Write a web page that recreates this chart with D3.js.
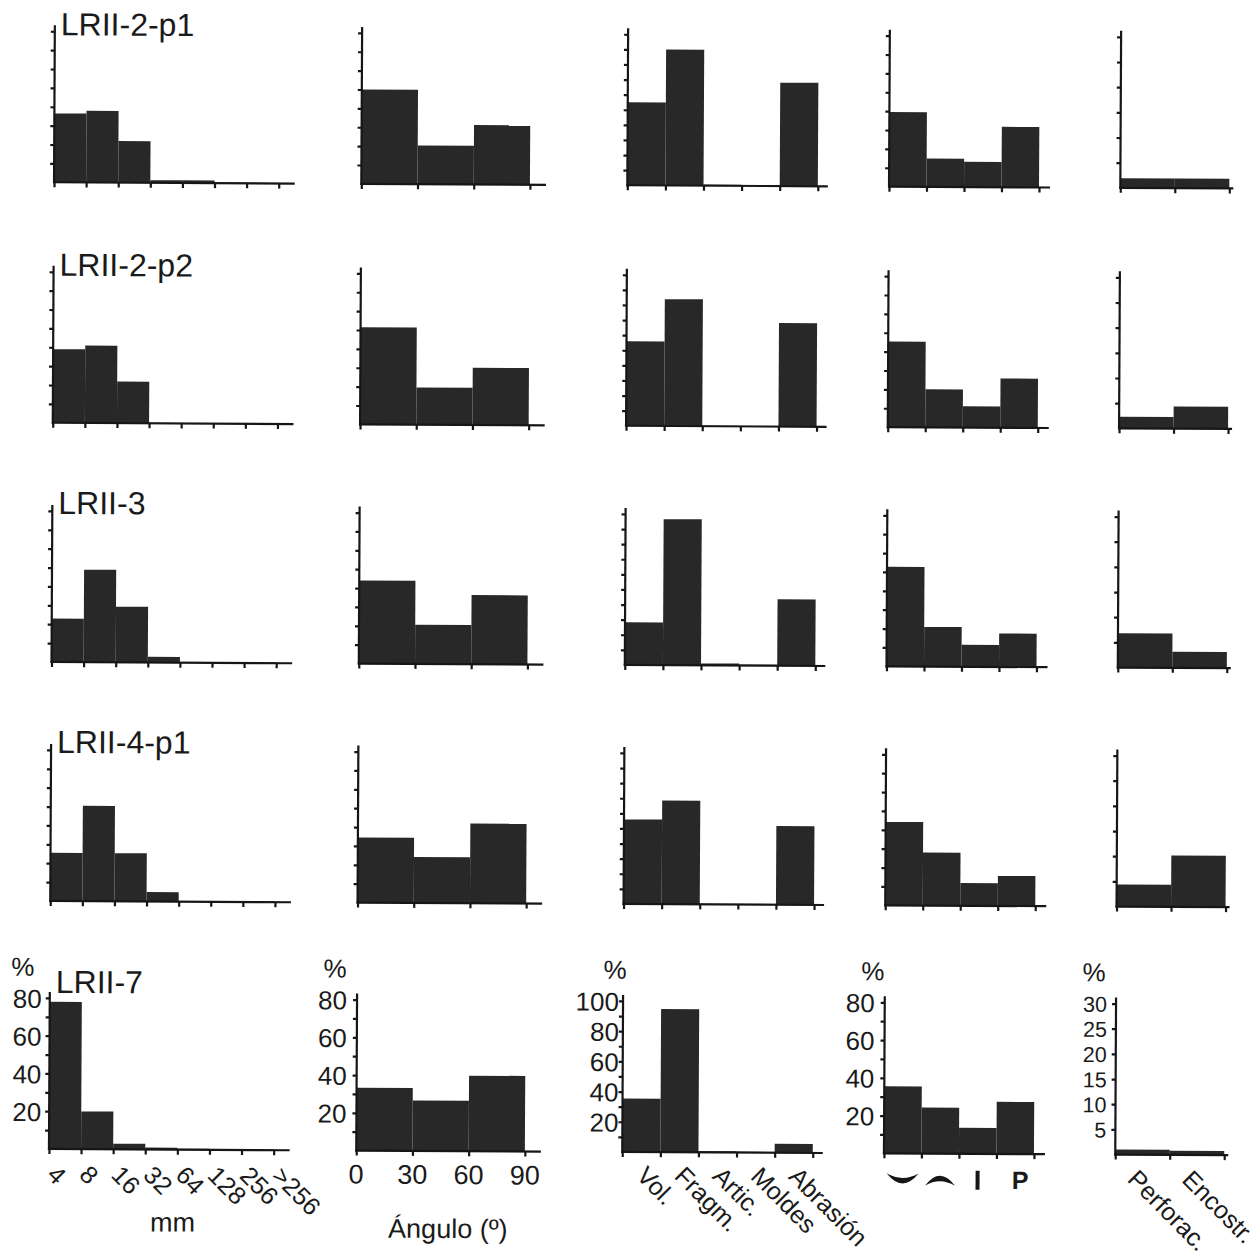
<!DOCTYPE html>
<html>
<head>
<meta charset="utf-8">
<script src="https://cdn.jsdelivr.net/npm/d3@7"></script>
<style>
  html, body { margin: 0; padding: 0; background: #ffffff; }
  svg text { font-family: "Liberation Sans", Arial, Helvetica, sans-serif; fill: #1a1a1a; }
</style>
</head>
<body>
<svg id="fig" width="1260" height="1256"></svg>
<script>
// ---- Data -------------------------------------------------------------
// Levels (one row of histograms each)
const samples = ["LRII-2-p1", "LRII-2-p2", "LRII-3", "LRII-4-p1", "LRII-7"];

// Size classes (mm): bin edges, and % of remains per class
const sizeEdges = ["4", "8", "16", "32", "64", "128", "256", ">256"];
const sizePct = [
  [36.5, 38, 22, 1.4, 1.4, 0.3, 0.3],
  [39, 41, 22, 0.3, 0.3, 0.3, 0.3],
  [23, 49, 29.5, 3, 0.4, 0.4, 0.4],
  [25.5, 50.5, 25.5, 5, 0.4, 0.4, 0.4],
  [78, 20, 3, 1, 0.5, 0.4, 0.3]
];

// Dip angle (degrees): bin edges and %
const angleEdges = ["0", "30", "60", "90"];
const anglePct = [
  [50, 20.5, 31.5],
  [51.5, 19.7, 30.3],
  [44, 20.7, 36.6],
  [34.5, 24.3, 42.2],
  [33.3, 26.7, 40]
];

// Taphonomic features (%)
const taphCats = ["Vol.", "Fragm.", "Artic.", "Moldes", "Abrasión"];
const taphPct = [
  [55, 90, 0.8, 0.6, 68.5],
  [56, 84, 0.3, 0.3, 68.6],
  [28.3, 96.7, 1.3, 0.6, 44],
  [56, 68.6, 0.3, 0.3, 52.2],
  [35.4, 94.8, 0.8, 0.5, 5.9]
];

// Shell orientation (%): convex-down, convex-up, vertical, P
const orientCats = ["smile", "frown", "bar", "P"];
const orientPct = [
  [39.5, 15, 13.4, 32],
  [45.4, 20.2, 11.3, 26.1],
  [52.7, 21, 11.6, 17.7],
  [44.2, 28.1, 12, 15.9],
  [35.5, 24.4, 13.8, 27.6]
];

// Bioerosion / encrustation (%)
const bioCats = ["Perforac.", "Encostr."];
const bioPct = [
  [1.9, 1.9],
  [2.3, 4.4],
  [6.8, 3.2],
  [4.4, 10.2],
  [1.0, 0.8]
];

// Y-axis extents per column
const yMaxes    = [80, 80, 100, 80, 30];
const yTickStep = [10, 10, 10, 10, 5];
const yLabStep  = [20, 20, 20, 20, 5];

// ---- Layout -----------------------------------------------------------
const colX    = [51.7, 359, 625, 886.7, 1118];   // y-axis position of each column
const binW    = [32.1, 56.2, 38.1, 37.5, 54.5];  // width of one bin
const axisExt = [16, 16, 10, 11, 4];            // x-axis overhang past last tick
const rowBase = [185.3, 425.8, 665, 904, 1152];  // baseline of each row
const plotH   = 151;                             // height of the labelled range
const labGap  = [8, 10, 4, 10, 9];               // y label gap from axis
const labSize = [26, 26, 26, 26, 21.5];          // y label font size
const pctDx   = [-27, -22, -8, -12, -22];        // "%" centre offset from axis
const titleDy = [4, 4, 3, 3, -5];                // sample name baseline vs top tick

const ink = "#161616";
const barFill = "#282828";

const svg = d3.select("#fig");
svg.append("rect").attr("width", 1260).attr("height", 1256).attr("fill", "#ffffff");
const root = svg.append("g").attr("transform", "rotate(0.3 630 628)");

const colData = [sizePct, anglePct, taphPct, orientPct, bioPct];
const lastRow = samples.length - 1;

colData.forEach((rows, c) => {
  rows.forEach((vals, r) => {
    const n = vals.length;
    const g = root.append("g").attr("transform", `translate(${colX[c]},${rowBase[r]})`);
    const x = d3.scaleLinear().domain([0, n]).range([0, n * binW[c]]);
    const y = d3.scaleLinear().domain([0, yMaxes[c]]).range([0, -plotH]);

    // bars
    g.selectAll("rect.bar").data(vals).join("rect")
      .attr("class", "bar")
      .attr("x", (d, i) => x(i))
      .attr("width", x(1) - x(0))
      .attr("y", d => y(d))
      .attr("height", d => y(0) - y(d))
      .attr("fill", barFill);

    const isBottom = r === lastRow;

    // y axis ticks
    const yAxis = d3.axisLeft(y)
      .tickValues(d3.range(yTickStep[c], yMaxes[c] + 0.001, yTickStep[c]))
      .tickSize(4)
      .tickPadding(labGap[c] - 4)
      .tickFormat(d => (isBottom && d % yLabStep[c] === 0) ? String(d) : "");
    const ya = g.append("g").call(yAxis)
      .attr("font-family", null).attr("font-size", null);
    ya.select(".domain").remove();
    ya.selectAll(".tick line").attr("stroke", ink).attr("stroke-width", 2.2);
    ya.selectAll(".tick text").attr("font-size", labSize[c]).attr("fill", ink).attr("dy", "0.36em");

    // x axis ticks
    const xAxis = d3.axisBottom(x).tickValues(d3.range(0, n + 1)).tickSize(5).tickFormat("");
    const xa = g.append("g").call(xAxis);
    xa.select(".domain").remove();
    xa.selectAll(".tick line").attr("stroke", ink).attr("stroke-width", 2.2);

    // axis lines
    g.append("line").attr("x1", 0).attr("x2", 0)
      .attr("y1", y(0) + 1).attr("y2", y(yMaxes[c]) - 6)
      .attr("stroke", ink).attr("stroke-width", 2.2);
    g.append("line").attr("x1", -1).attr("x2", x(n) + axisExt[c])
      .attr("y1", 0).attr("y2", 0)
      .attr("stroke", ink).attr("stroke-width", 2.2);

    // sample name on the first column
    if (c === 0) {
      g.append("text")
        .attr("x", 6).attr("y", y(yMaxes[c]) + titleDy[r])
        .attr("font-size", 32)
        .text(samples[r]);
    }

    if (!isBottom) return;

    // "%" unit label
    g.append("text")
      .attr("x", pctDx[c]).attr("y", y(yMaxes[c]) - 22)
      .attr("text-anchor", "middle").attr("font-size", 26)
      .text("%");

    const mid = i => (x(i) + x(i + 1)) / 2;

    if (c === 0) {
      g.selectAll("text.xl").data(sizeEdges).join("text")
        .attr("class", "xl").attr("font-size", 25)
        .attr("transform", (d, i) => `translate(${x(i) - 3},27) rotate(45)`)
        .text(d => d);
      g.append("text").attr("x", 124).attr("y", 82)
        .attr("text-anchor", "middle").attr("font-size", 27).text("mm");
    } else if (c === 1) {
      g.selectAll("text.xl").data(angleEdges).join("text")
        .attr("class", "xl").attr("font-size", 27)
        .attr("text-anchor", "middle")
        .attr("x", (d, i) => x(i)).attr("y", 33)
        .text(d => d);
      g.append("text").attr("x", 92).attr("y", 87)
        .attr("text-anchor", "middle").attr("font-size", 27).text("Ángulo (º)");
    } else if (c === 2) {
      g.selectAll("text.xl").data(taphCats).join("text")
        .attr("class", "xl").attr("font-size", 25)
        .attr("transform", (d, i) => `translate(${mid(i) - 6},25) rotate(45)`)
        .text(d => d);
    } else if (c === 3) {
      const sy = 26;
      orientCats.forEach((k, i) => {
        const cx = mid(i);
        if (k === "smile") {
          g.append("path")
            .attr("d", `M${cx - 16},${sy - 6} Q${cx},${sy + 14} ${cx + 16},${sy - 6} Q${cx},${sy + 3} ${cx - 16},${sy - 6} Z`)
            .attr("fill", ink);
        } else if (k === "frown") {
          g.append("path")
            .attr("d", `M${cx - 15},${sy + 6} Q${cx},${sy - 14} ${cx + 15},${sy + 6} Q${cx},${sy - 3} ${cx - 15},${sy + 6} Z`)
            .attr("fill", ink);
        } else if (k === "bar") {
          g.append("rect").attr("x", cx - 2).attr("y", sy - 9)
            .attr("width", 4).attr("height", 19).attr("fill", ink);
        } else {
          g.append("text").attr("x", cx + 5).attr("y", sy + 9)
            .attr("text-anchor", "middle").attr("font-size", 25)
            .attr("font-weight", "bold").text(k);
        }
      });
    } else if (c === 4) {
      g.selectAll("text.xl").data(bioCats).join("text")
        .attr("class", "xl").attr("font-size", 25)
        .attr("transform", (d, i) => `translate(${mid(i) - 16},26) rotate(45)`)
        .text(d => d);
    }
  });
});
</script>
</body>
</html>
